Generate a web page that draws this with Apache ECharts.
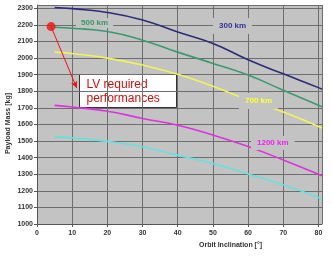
<!DOCTYPE html>
<html><head><meta charset="utf-8">
<script src="https://cdn.jsdelivr.net/npm/echarts@6/dist/echarts.min.js"></script>
<style>html,body{margin:0;padding:0;background:#fff}#c{width:332px;height:257px}</style>
</head><body><div id="c"></div>
<script>
var inclinations = [5, 10, 20, 30, 40, 50, 60, 70, 80, 81];
var mass300  = [2305, 2298, 2275, 2230, 2157, 2088, 1990, 1905, 1822, 1812];
var mass500  = [2186, 2180, 2160, 2108, 2036, 1968, 1898, 1806, 1716, 1706];
var mass700  = [2036, 2028, 2000, 1958, 1902, 1830, 1748, 1675, 1588, 1578];
var mass1200 = [1715, 1705, 1680, 1636, 1595, 1536, 1467, 1386, 1300, 1291];
var mass1500 = [1525, 1519, 1498, 1466, 1415, 1365, 1302, 1236, 1160, 1151];
var reqPoint = [4, 2190];
var arrowEnd = [11.3, 1819];
var xTicks = [0, 10, 20, 30, 40, 50, 60, 70, 80];
var yTicks = [1000, 1100, 1200, 1300, 1400, 1500, 1600, 1700, 1800, 1900, 2000, 2100, 2200, 2300];

function pairs(ys){ return inclinations.map(function(x,i){ return [x, ys[i]]; }); }
function lineSeries(ys, color){
  return {type:'line', data:pairs(ys), smooth:true, showSymbol:false, silent:true,
    lineStyle:{color:color, width:1.6}, z:3};
}
var lblFont = 'bold 8px Arial, "Liberation Sans", sans-serif';
function tag(x, y, text, color, pad){
  return {type:'text', left:x, top:y, z:100,
    style:{text:text, fill:color, font:lblFont, backgroundColor:'#c3c3c3', padding:pad}};
}
var chart = echarts.init(document.getElementById('c'));
chart.setOption({
  animation:false,
  backgroundColor:'#ffffff',
  grid:{left:37, right:10, top:5, bottom:33, show:true, backgroundColor:'#c3c3c3', borderWidth:0},
  xAxis:{type:'value', min:0, max:81, interval:10,
    axisLine:{show:true, lineStyle:{color:'#555', width:1}},
    axisTick:{show:true, length:3, lineStyle:{color:'#555'}},
    axisLabel:{color:'#333', fontSize:7, fontWeight:'bold', margin:6, showMaxLabel:false,
      formatter:function(v){ return xTicks.indexOf(v) >= 0 ? String(v) : ''; }},
    splitLine:{show:true, lineStyle:{color:'#6e6e6e', width:1}}},
  yAxis:{type:'value', min:1000, max:2320, interval:100,
    axisLine:{show:true, lineStyle:{color:'#555', width:1}},
    axisTick:{show:true, length:3, lineStyle:{color:'#555'}},
    axisLabel:{color:'#333', fontSize:7, fontWeight:'bold', margin:4, showMaxLabel:false,
      formatter:function(v){ return yTicks.indexOf(v) >= 0 ? String(v) : ''; }},
    splitLine:{show:true, lineStyle:{color:'#6e6e6e', width:1}}},
  series:[
    lineSeries(mass300, '#2b2b7a'),
    lineSeries(mass500, '#3a9a70'),
    lineSeries(mass700, '#f2f25a'),
    lineSeries(mass1200, '#e030e0'),
    lineSeries(mass1500, '#66e0e0'),
    {type:'scatter', data:[reqPoint], symbolSize:9, itemStyle:{color:'#ee1111'}, z:10, silent:true,
      markLine:{silent:true, symbol:['none','arrow'], symbolSize:[5,7], label:{show:false},
        lineStyle:{color:'#ee1111', width:1, type:'solid'},
        data:[[{coord:reqPoint},{coord:arrowEnd}]]}}
  ],
  graphic:[
    tag(213, 18, '300 km', '#333399', [4,6,4,6]),
    tag(76, 18, '500 km', '#339966', [1,5,1,5]),
    tag(239, 93, '700 km', '#ffff33', [4,6,4,6]),
    tag(251, 136, '1200 km', '#ee22ee', [3,6,3,6]),
    {type:'group', left:79, top:74, z:110, children:[
      {type:'rect', shape:{x:0, y:0, width:97, height:33}, style:{fill:'#ffffff', stroke:'#333', lineWidth:1}},
      {type:'text', left:7, top:4, style:{text:'LV required', fill:'#cc1111', font:'12px Arial, "Liberation Sans", sans-serif'}},
      {type:'text', left:7, top:18, style:{text:'performances', fill:'#cc1111', font:'12px Arial, "Liberation Sans", sans-serif'}}
    ]},
    {type:'text', left:199, top:242, style:{text:'Orbit Inclination [°]', fill:'#333', font:'bold 7px Arial, "Liberation Sans", sans-serif'}},
    {type:'text', left:5, top:93, rotation:Math.PI/2, style:{text:'Payload Mass [kg]', fill:'#333', font:'bold 7px Arial, "Liberation Sans", sans-serif'}}
  ]
});
</script></body></html>
